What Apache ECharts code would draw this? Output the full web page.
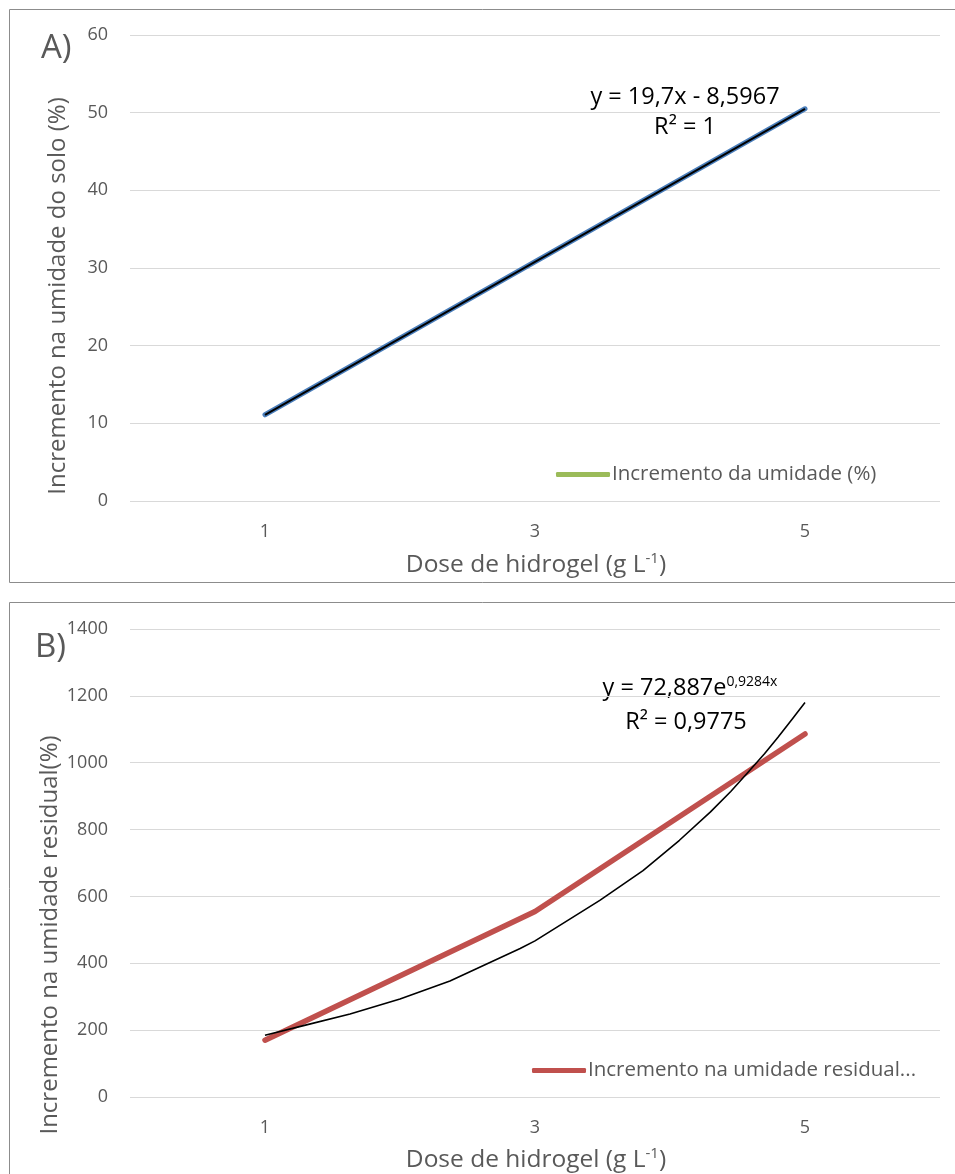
<!DOCTYPE html>
<html><head><meta charset="utf-8">
<script src="https://cdn.jsdelivr.net/npm/echarts@6/dist/echarts.min.js"></script>
<style>html,body{margin:0;padding:0;background:#fff}#c{width:955px;height:1174px}</style>
</head><body><div id="c"></div>
<script>
// ---- data ----
const doses = [1, 3, 5];                 // x categories (g L-1)
const xTickLabels = ['1', '3', '5'];
const incUmidade = [11.1, 30.8, 50.5];   // panel A (%)
const trendA = [[1, 11.1], [5, 50.5]];   // linear trendline endpoints
const incResidual = [170, 555, 1086];    // panel B (%)
const trendBx = [1, 1.3, 1.63, 2.0, 2.37, 2.89, 3.0, 3.48, 3.8, 4.07, 4.3, 4.45, 4.58, 4.7, 4.8, 4.9, 5];   // points
const trendBy = [185, 215, 248, 293, 347, 444, 467, 588, 677, 768, 853, 914, 972, 1027, 1076, 1128, 1180];
const yTicksA = {min: 0, max: 60, interval: 10};
const yTicksB = {min: 0, max: 1400, interval: 200};

const FONT = 'Open Sans';
const GRAY = '#595959';
const chart = echarts.init(document.getElementById('c'), null, {renderer: 'canvas'});

function xAxis(gi) {
  return {
    type: 'value', gridIndex: gi, min: 0, max: 6, interval: 1,
    axisLine: {show: false}, axisTick: {show: false}, splitLine: {show: false},
    axisLabel: {
      color: GRAY, fontFamily: FONT, fontSize: 18, margin: 22,
      formatter: v => { const i = doses.indexOf(v); return i >= 0 ? xTickLabels[i] : ''; }
    }
  };
}
function yAxis(gi, t) {
  return {
    type: 'value', gridIndex: gi, min: t.min, max: t.max, interval: t.interval,
    axisLine: {show: false}, axisTick: {show: false},
    splitLine: {lineStyle: {color: '#d9d9d9', width: 1}},
    axisLabel: {color: GRAY, fontFamily: FONT, fontSize: 18, margin: 22, formatter: v => String(v)}
  };
}
const pair = (xs, ys) => xs.map((x, i) => [x, ys[i]]);
const supRich = (size, col) => ({
  a: {fontFamily: FONT, fontSize: size, fill: col},
  s: {fontFamily: FONT, fontSize: Math.round(size * 0.6), fill: col, padding: [0, 0, Math.round(size * 0.5), 0]}
});

const option = {
  animation: false,
  grid: [
    {left: 130, right: 15, top: 35, height: 466},
    {left: 130, right: 15, top: 629, height: 468}
  ],
  xAxis: [xAxis(0), xAxis(1)],
  yAxis: [yAxis(0, yTicksA), yAxis(1, yTicksB)],
  legend: [
    {data: ['Incremento da umidade (%)'], left: 551, top: 459, itemWidth: 54, itemHeight: 5, itemGap: 0,
     icon: 'roundRect', textStyle: {color: GRAY, fontFamily: FONT, fontSize: 20.5, padding: [0, 0, 0, -3]}},
    {data: ['Incremento na umidade residual...'], left: 527, top: 1055, itemWidth: 54, itemHeight: 5,
     icon: 'roundRect', textStyle: {color: GRAY, fontFamily: FONT, fontSize: 20.5, padding: [0, 0, 0, -3]}}
  ],
  series: [
    {name: 'A', type: 'line', xAxisIndex: 0, yAxisIndex: 0, data: pair(doses, incUmidade),
     symbol: 'none', lineStyle: {color: '#4a7ebb', width: 5, cap: 'round'}},
    {name: 'trendA', type: 'line', xAxisIndex: 0, yAxisIndex: 0, data: trendA,
     symbol: 'none', lineStyle: {color: '#000', width: 2}},
    {name: 'Incremento da umidade (%)', type: 'line', xAxisIndex: 0, yAxisIndex: 0, data: [],
     itemStyle: {color: '#9bbb59'}, lineStyle: {color: '#9bbb59'}},
    {name: 'Incremento na umidade residual...', type: 'line', xAxisIndex: 1, yAxisIndex: 1,
     data: pair(doses, incResidual), symbol: 'none',
     itemStyle: {color: '#c0504d'}, lineStyle: {color: '#c0504d', width: 5.5, cap: 'round', join: 'round'}},
    {name: 'trendB', type: 'line', xAxisIndex: 1, yAxisIndex: 1, data: pair(trendBx, trendBy),
     symbol: 'none', smooth: false, lineStyle: {color: '#000', width: 1.6, join: 'round'}, z: 3}
  ],
  graphic: [
    {type: 'rect', shape: {x: 9.5, y: 9.5, width: 960, height: 573}, style: {fill: 'none', stroke: '#8c8c8c', lineWidth: 1}, silent: true, z: -1},
    {type: 'rect', shape: {x: 9.5, y: 602.5, width: 960, height: 600}, style: {fill: 'none', stroke: '#8c8c8c', lineWidth: 1}, silent: true, z: -1},
    {type: 'text', left: 41, top: 32, style: {text: 'A)', fontFamily: FONT, fontSize: 33, fill: GRAY}},
    {type: 'text', left: 35, top: 631, style: {text: 'B)', fontFamily: FONT, fontSize: 33, fill: GRAY}},
    {type: 'text', x: 58, y: 296, rotation: Math.PI / 2,
     style: {text: 'Incremento na umidade do solo (%)', fontFamily: FONT, fontSize: 24, fill: GRAY, align: 'center', verticalAlign: 'middle'}},
    {type: 'text', x: 50, y: 935, rotation: Math.PI / 2,
     style: {text: 'Incremento na umidade residual(%)', fontFamily: FONT, fontSize: 24, fill: GRAY, align: 'center', verticalAlign: 'middle'}},
    {type: 'text', x: 536, y: 565,
     style: {text: '{a|Dose de hidrogel (g L}{s|-1}{a|)}', align: 'center', verticalAlign: 'middle', rich: supRich(24.5, GRAY)}},
    {type: 'text', x: 536, y: 1160,
     style: {text: '{a|Dose de hidrogel (g L}{s|-1}{a|)}', align: 'center', verticalAlign: 'middle', rich: supRich(24.5, GRAY)}},
    {type: 'text', x: 685, y: 97,
     style: {text: 'y = 19,7x - 8,5967', fontFamily: FONT, fontSize: 23.5, fill: '#000', align: 'center', verticalAlign: 'middle'}},
    {type: 'text', x: 685, y: 127,
     style: {text: 'R² = 1', fontFamily: FONT, fontSize: 23.5, fill: '#000', align: 'center', verticalAlign: 'middle'}},
    {type: 'text', x: 690, y: 688,
     style: {text: '{a|y = 72,887e}{s|0,9284x}', align: 'center', verticalAlign: 'middle', rich: supRich(23.5, '#000')}},
    {type: 'text', x: 686, y: 722,
     style: {text: 'R² = 0,9775', fontFamily: FONT, fontSize: 23.5, fill: '#000', align: 'center', verticalAlign: 'middle'}}
  ]
};
chart.setOption(option);
</script></body></html>
